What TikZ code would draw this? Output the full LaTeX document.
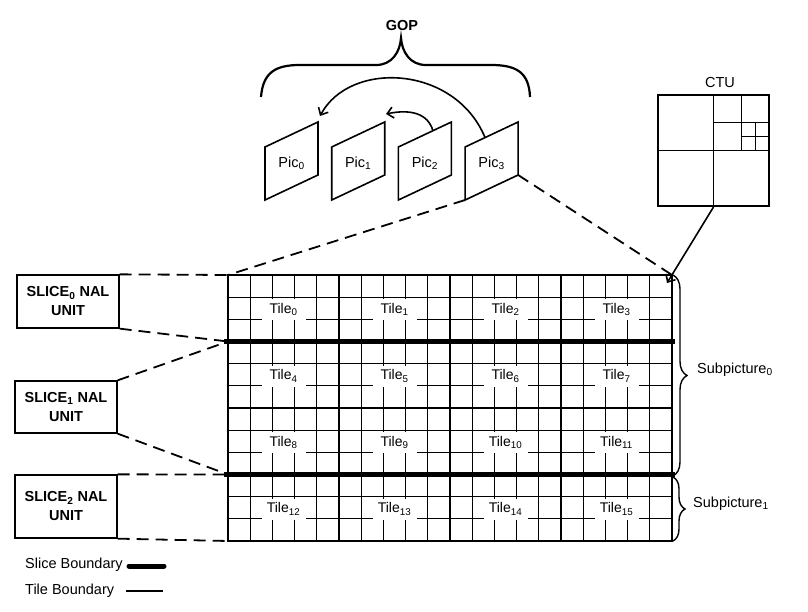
\documentclass[tikz,border=0pt]{standalone}
\usepackage{fontspec}
\setmainfont{Liberation Sans}
\usetikzlibrary{arrows.meta,decorations.pathreplacing}
\begin{document}
\begin{tikzpicture}[x=1pt,y=-1pt,
  lbl/.style={font=\fontsize{14.5}{17}\selectfont, inner sep=0pt},
  tilelbl/.style={font=\fontsize{14}{16}\selectfont, fill=white, minimum width=44pt, minimum height=21pt, inner sep=0pt},
  slicebox/.style={draw, line width=1.3pt, minimum width=102pt, inner sep=0pt, align=center, font=\fontsize{14.5}{19}\selectfont\bfseries},
  conn/.style={line width=1.8pt, dash pattern=on 12pt off 7pt},
  picframe/.style={line width=1.6pt, line join=miter},
  ctuline/.style={line width=0.8pt},
  tileline/.style={line width=2pt},
  sliceline/.style={line width=5.5pt},
  arr/.style={line width=1.6pt, -{Straight Barb[length=6pt,width=11pt,line width=1.6pt]}},
  subbrace/.style={decorate, decoration={brace, amplitude=#1}, line width=1.4pt},
]
\useasboundingbox (0,0) rectangle (808,612);

% ---- grid ----
\coordinate (gnw) at (228,275);
\coordinate (gne) at (672,275);
\coordinate (gsw) at (228,541);
\coordinate (gse) at (672,541);
\coordinate (sl0w) at (228,341.5);
\coordinate (sl1w) at (228,474.5);

\foreach \i in {1,...,19} \draw[ctuline] ({228+\i*22.2},275) -- ({228+\i*22.2},541);
\foreach \j in {1,...,11} \draw[ctuline] (228,{275+\j*22.1667}) -- (672,{275+\j*22.1667});

\foreach \r in {0,...,3} {
  \foreach \c in {0,...,3} {
    \pgfmathtruncatemacro\n{4*\r+\c}
    \node[tilelbl] (t\n) at ({283.5+111*\c},{309.5+66.5*\r}) {Tile\textsubscript{\n}};
  }
}

\foreach \c in {1,2,3} \draw[tileline] ({228+111*\c},275) -- ({228+111*\c},541);
\draw[tileline] (228,408) -- (672,408);
\draw[tileline] (gnw) rectangle (gse);
\draw[sliceline] (224,341.5) -- (675,341.5);
\draw[sliceline] (224,474.5) -- (675,474.5);

% ---- slice NAL units ----
\node[slicebox, minimum height=53pt] (s0) at (68,301.5) {SLICE\textsubscript{0} NAL\\UNIT};
\node[slicebox, minimum height=52pt] (s1) at (66,407) {SLICE\textsubscript{1} NAL\\UNIT};
\node[slicebox, minimum height=63pt] (s2) at (66,506.5) {SLICE\textsubscript{2} NAL\\UNIT};

\draw[conn] (s0.north east) -- (gnw);
\draw[conn] (s0.south east) -- (sl0w);
\draw[conn] (s1.north east) -- (sl0w);
\draw[conn] (s1.south east) -- (sl1w);
\draw[conn] (s2.north east) -- (sl1w);
\draw[conn] (s2.south east) -- (gsw);

% ---- pictures ----
\foreach \k in {0,...,3} {
  \pgfmathsetmacro\xl{265+66.7*\k}
  \coordinate (pic\k-tl) at (\xl,147);
  \coordinate (pic\k-bl) at (\xl,200);
  \coordinate (pic\k-br) at ({\xl+53},175);
  \coordinate (pic\k-tr) at ({\xl+53},122);
  \draw[picframe] (pic\k-tl) -- (pic\k-bl) -- (pic\k-br) -- (pic\k-tr) -- cycle;
  \node[lbl] (p\k) at ({\xl+26.5},163) {Pic\textsubscript{\k}};
}

\coordinate (a1s) at (485,137.5);
\coordinate (a1e) at (320,116);
\draw[arr] (a1s) .. controls (455,65) and (350,60) .. (a1e);
\coordinate (a2s) at (433,131);
\coordinate (a2e) at (386,114);
\draw[arr] (a2s) .. controls (428,113) and (410,109) .. (a2e);

\draw[conn] (pic3-bl) -- (gnw);
\draw[conn] (pic3-br) -- (gne);

% ---- GOP brace ----
\draw[line width=2.2pt] (261,97) .. controls (263,72) and (276,65) .. (300,65) -- (376,65)
  .. controls (392,65) and (400,52) .. (401,38)
  .. controls (402,52) and (410,65) .. (426,65) -- (491,65)
  .. controls (516,65) and (529,72) .. (530,97);
\node[lbl, font=\fontsize{14.5}{17}\selectfont\bfseries] (gop) at (402,26) {GOP};

% ---- CTU ----
\node[draw, line width=2pt, minimum size=111pt, inner sep=0pt] (ctu) at (713.5,150.5) {};
\node[lbl] (ctulbl) at (720,83) {CTU};
\draw[ctuline] (713.5,95) -- (713.5,206);
\draw[ctuline] (658,150.5) -- (769,150.5);
\draw[ctuline] (741.25,95) -- (741.25,150.5);
\draw[ctuline] (713.5,122.75) -- (769,122.75);
\draw[ctuline] (755.1,122.75) -- (755.1,150.5);
\draw[ctuline] (741.25,136.6) -- (769,136.6);
\coordinate (ctut) at (667,283);
\draw[arr] (ctu.south) -- (ctut);

% ---- subpictures ----
\draw[subbrace=14pt] (673,275) -- (673,476);
\node[lbl, anchor=west] (sp0) at (697,370) {Subpicture\textsubscript{0}};
\draw[subbrace=12pt] (673,477) -- (673,541);
\node[lbl, anchor=west] (sp1) at (693,504) {Subpicture\textsubscript{1}};

% ---- legend ----
\node[lbl, anchor=west] (lgs) at (25,565) {Slice Boundary};
\node[lbl, anchor=west] (lgt) at (25,591) {Tile Boundary};
\coordinate (lgs1) at (129,566);
\coordinate (lgs2) at (164,566);
\coordinate (lgt1) at (126,591);
\coordinate (lgt2) at (163,591);
\draw[line width=5pt, line cap=round] (lgs1) -- (lgs2);
\draw[line width=2pt] (lgt1) -- (lgt2);
\end{tikzpicture}
\end{document}
